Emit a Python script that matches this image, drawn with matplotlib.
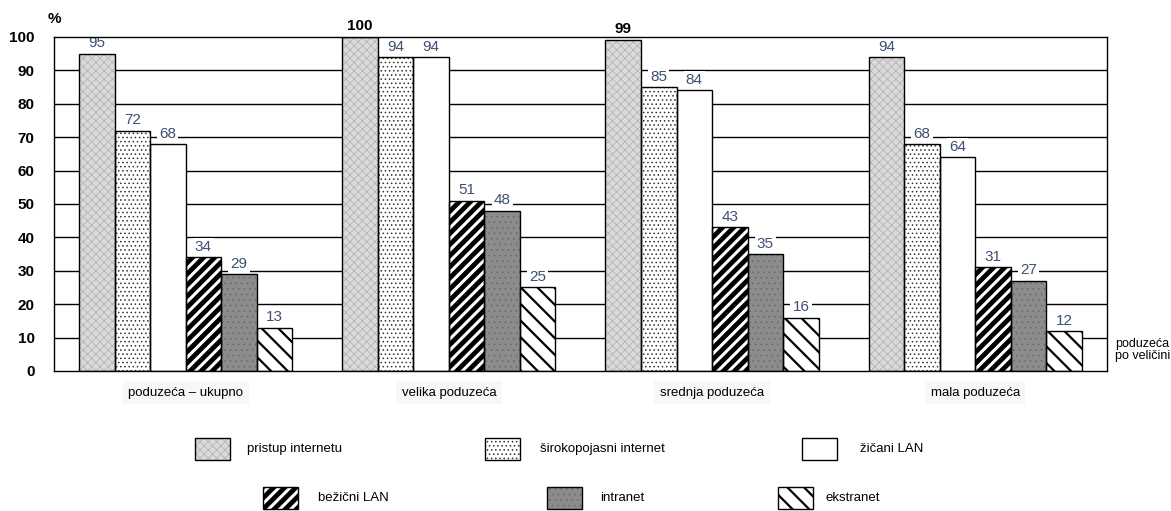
import numpy as np
import matplotlib.pyplot as plt
from matplotlib.patches import Rectangle

plt.rcParams['font.family'] = ['Liberation Sans Narrow', 'Liberation Sans', 'DejaVu Sans']

# podaci
groups = ['poduzeća – ukupno', 'velika poduzeća', 'srednja poduzeća', 'mala poduzeća']
series = ['pristup internetu', 'širokopojasni internet', 'žičani LAN',
          'bežični LAN', 'intranet', 'ekstranet']
pristup = [95, 100, 99, 94]
sirokopojasni = [72, 94, 85, 68]
zicani = [68, 94, 84, 64]
bezicni = [34, 51, 43, 31]
intranet = [29, 48, 35, 27]
ekstranet = [13, 25, 16, 12]
values = [pristup, sirokopojasni, zicani, bezicni, intranet, ekstranet]

# stil: (boja ispune, boja srafure, srafura, debljina srafure)
styles = [
    ('#dadada', '#b4b4b4', 'xxxx', 0.6),
    ('white', '#333333', '....', 0.6),
    ('white', 'white', '', 0.5),
    ('black', 'white', '///', 2.2),
    ('#8c8c8c', '#6e6e6e', '...', 0.6),
    ('white', 'black', '\\\\', 1.6),
]


def styled_bar(ax, x, h, w, st):
    face, hcol, hatch, hlw = st
    b = ax.bar(x, h, w, color=face, edgecolor=hcol, hatch=hatch, linewidth=0, zorder=2)
    for p in b:
        if hasattr(p, 'set_hatch_linewidth'):
            p.set_hatch_linewidth(hlw)
    ax.bar(x, h, w, fill=False, edgecolor='black', linewidth=1.0, zorder=3)
    return b


fig = plt.figure(figsize=(11.71, 5.11), dpi=100)
ax = fig.add_axes([0.0461, 0.274, 0.8992, 0.6536])

bw = 0.135
xg = np.arange(len(groups))
for i, (vals, st) in enumerate(zip(values, styles)):
    xs = xg + (i - 2.5) * bw
    styled_bar(ax, xs, vals, bw, st)
    for x, v in zip(xs, vals):
        if v >= 99:
            ax.text(x, v + 1.2, str(v), ha='center', va='bottom', fontsize=11,
                    fontweight='bold', color='black', zorder=4)
        else:
            ax.text(x, v + 1.0, str(v), ha='center', va='bottom', fontsize=11,
                    color='#3d4f73', zorder=4,
                    bbox=dict(facecolor='white', edgecolor='none', pad=1.5))

ax.set_xlim(-0.5, len(groups) - 0.5)
ax.set_ylim(0, 100)
ax.set_yticks(np.arange(0, 101, 10))
ax.set_yticklabels([str(t) for t in range(0, 101, 10)], fontweight='bold', fontsize=11)
ax.tick_params(axis='y', length=0, pad=14)
ax.tick_params(axis='x', length=0)
ax.set_xticks([])
for t in range(10, 100, 10):
    ax.axhline(t, color='black', linewidth=1.0, zorder=1)
for s in ax.spines.values():
    s.set_linewidth(1.0)
    s.set_zorder(5)

for x, g in zip(xg, groups):
    ax.text(x, -6.5, g, ha='center', va='center', fontsize=9.5, transform=ax.transData,
            clip_on=False, bbox=dict(facecolor='#f7f7f7', edgecolor='none', pad=4))

fig.text(0.041, 0.962, '%', fontsize=11, fontweight='bold', ha='left', va='center')
fig.text(0.9525, 0.315, 'poduzeća\npo veličini', fontsize=9, ha='left', va='center',
         linespacing=0.95)

# legenda
leg_pos = [(195, 449, 247), (485, 449, 540), (802, 449, 860),
           (263, 498, 318), (547, 498, 600), (778, 498, 826)]
W, H = 1171, 511
for (px, py, tx), st, name in zip(leg_pos, styles, series):
    face, hcol, hatch, hlw = st
    r = Rectangle((px / W, 1 - (py + 11) / H), 35 / W, 22 / H, transform=fig.transFigure,
                  facecolor=face, edgecolor=hcol, hatch=hatch, linewidth=0)
    if hasattr(r, 'set_hatch_linewidth'):
        r.set_hatch_linewidth(hlw)
    fig.add_artist(r)
    fig.add_artist(Rectangle((px / W, 1 - (py + 11) / H), 35 / W, 22 / H,
                             transform=fig.transFigure, fill=False,
                             edgecolor='black', linewidth=1.0))
    fig.text(tx / W, 1 - py / H, name, fontsize=9.5, ha='left', va='center')

fig.savefig('out.png', dpi=100)
